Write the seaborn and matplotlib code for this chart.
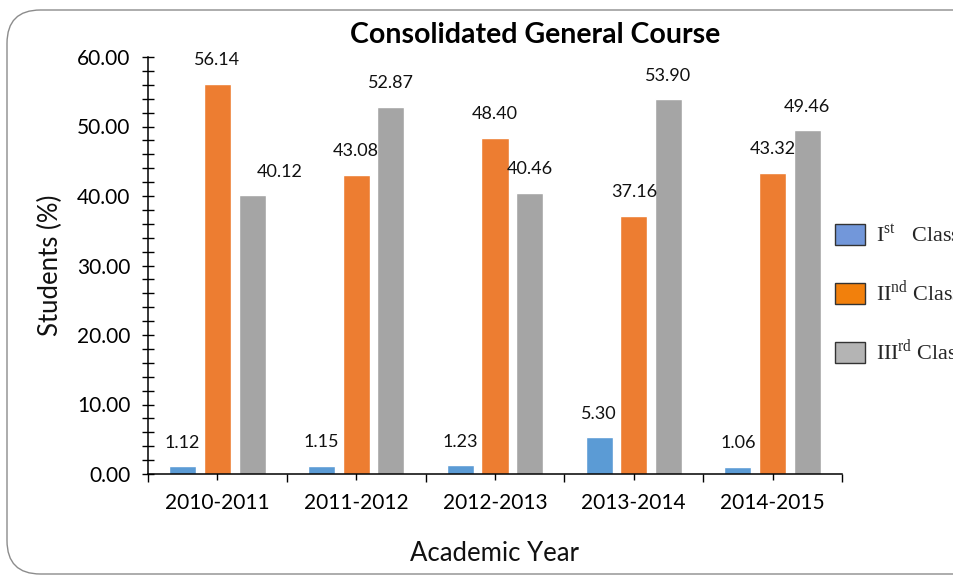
import numpy as np
import pandas as pd
import matplotlib
matplotlib.use("Agg")
import matplotlib.pyplot as plt
from matplotlib.patches import Patch, FancyBboxPatch
from matplotlib.ticker import MultipleLocator, FixedLocator, FormatStrFormatter
import seaborn as sns

years = ["2010-2011", "2011-2012", "2012-2013", "2013-2014", "2014-2015"]
first_class = [1.12, 1.15, 1.23, 5.30, 1.06]
second_class = [56.14, 43.08, 48.40, 37.16, 43.32]
third_class = [40.12, 52.87, 40.46, 53.90, 49.46]
class_names = ["Ist", "IInd", "IIIrd"]
legend_labels = [r"I$^{\mathregular{st}}$   Class", r"II$^{\mathregular{nd}}$ Class",
                 r"III$^{\mathregular{rd}}$ Class"]

df = pd.DataFrame({
    "year": years * 3,
    "cls": [class_names[0]] * 5 + [class_names[1]] * 5 + [class_names[2]] * 5,
    "value": first_class + second_class + third_class,
})

sns.set_theme(style="ticks")
plt.rcParams["font.family"] = ["Lato", "DejaVu Sans"]

bar_colors = ["#5B9BD5", "#ED7D31", "#A5A5A5"]
leg_colors = ["#7297DA", "#F2800C", "#B4B4B4"]

fig = plt.figure(figsize=(9.54, 5.8), dpi=100)
ax = fig.add_axes([148 / 954, 1 - 474 / 580, (842 - 148) / 954, (474 - 57) / 580])

sns.barplot(data=df, x="year", y="value", hue="cls", hue_order=class_names,
            order=years, palette=bar_colors, width=0.75, gap=0.22,
            legend=False, ax=ax, saturation=1)

# value labels
xshift = {(2, 0): 20}
for h, cont in enumerate(ax.containers):
    for i, p in enumerate(cont.patches):
        xc = p.get_x() + p.get_width() / 2
        yv = p.get_height()
        ax.annotate(f"{yv:.2f}", (xc, yv), xytext=(xshift.get((h, i), 0), 17),
                    textcoords="offset points", ha="center", va="center",
                    fontsize=13, color="#111111")

ax.set_xlim(-0.5, 4.5)
ax.set_ylim(0, 60)
ax.yaxis.set_major_locator(MultipleLocator(10))
ax.yaxis.set_minor_locator(MultipleLocator(2))
ax.yaxis.set_major_formatter(FormatStrFormatter("%.2f"))
ax.xaxis.set_minor_locator(FixedLocator(np.arange(-0.5, 5, 1.0)))
ax.tick_params(axis="y", which="both", direction="inout", length=9, width=1,
               color="black", labelsize=15, pad=8)
ax.tick_params(axis="x", which="major", direction="inout", length=8, width=1,
               color="black", labelsize=15, pad=10)
ax.tick_params(axis="x", which="minor", direction="out", length=6, width=1, color="black")
ax.tick_params(colors="black", which="both")
for s in ["top", "right"]:
    ax.spines[s].set_visible(False)
for s in ["left", "bottom"]:
    ax.spines[s].set_color("black")
    ax.spines[s].set_linewidth(1.1)

ax.set_xlabel("Academic Year", fontsize=18.5, labelpad=20, color="#111111")
ax.set_ylabel("Students (%)", fontsize=18.5, labelpad=10, color="#111111")
fig.text(535 / 954, 1 - 35 / 580, "Consolidated General Course", ha="center", va="center",
         fontsize=20.5, fontweight="bold", color="black")

handles = [Patch(facecolor=c, edgecolor="#333333", linewidth=1) for c in leg_colors]
fig.legend(handles, legend_labels, loc="upper left",
           bbox_to_anchor=(835 / 954, 1 - 224 / 580), frameon=False,
           prop={"family": ["Liberation Serif", "DejaVu Serif"], "size": 16},
           handlelength=1.35, handleheight=1.1, labelspacing=1.45,
           borderpad=0, borderaxespad=0, handletextpad=0.5)

border = FancyBboxPatch((7 / 954, 6 / 580), 1.05, 1 - 16 / 580,
                        boxstyle="round,pad=0,rounding_size=0.035",
                        transform=fig.transFigure, facecolor="none",
                        edgecolor="#8c8c8c", linewidth=1.0, mutation_aspect=954 / 580)
fig.patches.append(border)

fig.savefig("out.png", dpi=100)
